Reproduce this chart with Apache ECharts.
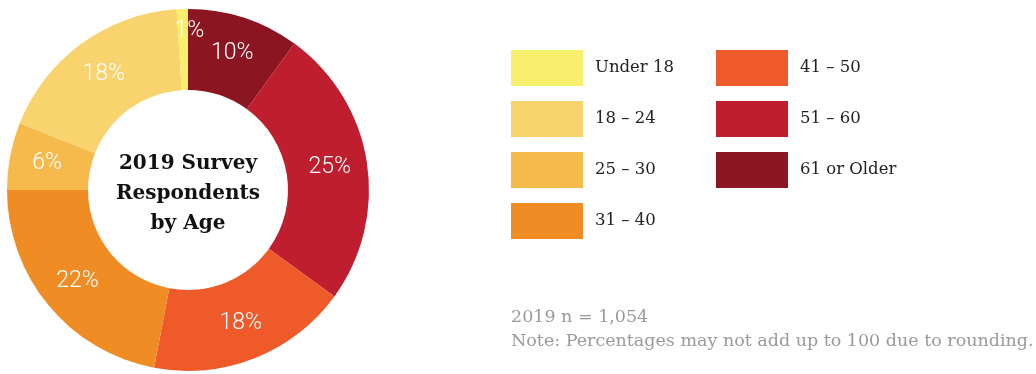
<!DOCTYPE html>
<html>
<head>
<meta charset="utf-8">
<script src="https://cdn.jsdelivr.net/npm/echarts@6/dist/echarts.min.js"></script>
<style>
  html, body { margin: 0; padding: 0; background: #ffffff; }
  #chart { width: 1036px; height: 374px; }
</style>
</head>
<body>
<div id="chart"></div>
<script>
// Age groups, listed clockwise from 12 o'clock
const ageGroups = ['61 or Older', '51 – 60', '41 – 50', '31 – 40', '25 – 30', '18 – 24', 'Under 18'];
const sharePct = [10, 25, 18, 22, 6, 18, 1];
const groupColors = ['#8B1520', '#BE1E2D', '#EE5A2A', '#EF8D24', '#F6B94B', '#F8D36E', '#F8EF6D'];
const legendLeftCol = ['Under 18', '18 – 24', '25 – 30', '31 – 40'];
const legendRightCol = ['41 – 50', '51 – 60', '61 or Older'];
const centerTitle = '2019 Survey\nRespondents\nby Age';
const noteLines = ['2019 n = 1,054', 'Note: Percentages may not add up to 100 due to rounding.'];

const slabFont = '"DejaVu Serif", serif';
const lightFont = 'Roboto, sans-serif';

const pieData = ageGroups.map((name, i) => {
  const item = { name: name, value: sharePct[i], itemStyle: { color: groupColors[i] } };
  if (sharePct[i] < 3) {
    // thin slice: lift its label toward the outer edge
    item.label = { offset: [6, -15] };
  }
  return item;
});

const legendBase = {
  orient: 'vertical',
  itemWidth: 72,
  itemHeight: 36,
  itemGap: 15,
  icon: 'rect',
  selectedMode: false,
  textStyle: {
    fontFamily: slabFont,
    fontSize: 16.5,
    color: '#222222',
    padding: [0, 0, 0, 7]
  }
};

const chart = echarts.init(document.getElementById('chart'), null, { renderer: 'canvas' });
chart.setOption({
  animation: false,
  backgroundColor: '#ffffff',
  legend: [
    Object.assign({}, legendBase, { left: 506, top: 45, data: legendLeftCol }),
    Object.assign({}, legendBase, { left: 711, top: 45, data: legendRightCol })
  ],
  graphic: [
    {
      type: 'text',
      left: 511,
      top: 305,
      style: {
        text: noteLines.join('\n'),
        fontFamily: slabFont,
        fontSize: 17.5,
        lineHeight: 24,
        fill: '#9a9a9a'
      }
    }
  ],
  series: [
    {
      type: 'pie',
      center: [188, 190],
      radius: [100, 181],
      startAngle: 90,
      clockwise: true,
      avoidLabelOverlap: false,
      label: {
        show: true,
        position: 'inside',
        formatter: '{c}%',
        color: '#ffffff',
        fontFamily: lightFont,
        fontSize: 23,
        fontWeight: 300
      },
      labelLine: { show: false },
      emphasis: { disabled: true },
      itemStyle: { borderWidth: 0 },
      data: pieData
    },
    {
      // center caption
      type: 'pie',
      center: [188, 194],
      radius: [0, 1],
      silent: true,
      label: {
        show: true,
        position: 'center',
        formatter: centerTitle,
        color: '#111111',
        fontFamily: slabFont,
        fontWeight: 'bold',
        fontSize: 20,
        lineHeight: 30
      },
      labelLine: { show: false },
      itemStyle: { color: 'rgba(0,0,0,0)' },
      data: [{ name: 'title', value: 1 }]
    }
  ]
});
</script>
</body>
</html>
